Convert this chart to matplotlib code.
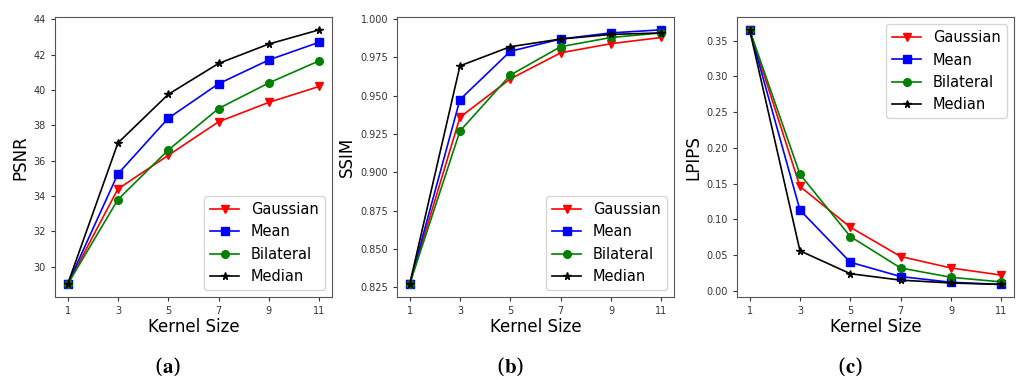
import matplotlib
matplotlib.use('Agg')
import matplotlib.pyplot as plt

plt.rcParams['font.family'] = ['DejaVu Sans']
plt.rcParams['mathtext.fontset'] = 'stix'

kernel_sizes = [1, 3, 5, 7, 9, 11]
methods = ['Gaussian', 'Mean', 'Bilateral', 'Median']

psnr_gaussian = [29.0, 34.4, 36.3, 38.2, 39.3, 40.2]
psnr_mean = [29.0, 35.25, 38.4, 40.35, 41.7, 42.7]
psnr_bilateral = [29.0, 33.8, 36.6, 38.95, 40.4, 41.65]
psnr_median = [29.0, 37.0, 39.75, 41.5, 42.6, 43.4]

ssim_gaussian = [0.827, 0.936, 0.961, 0.978, 0.984, 0.988]
ssim_mean = [0.827, 0.9475, 0.979, 0.987, 0.991, 0.993]
ssim_bilateral = [0.827, 0.927, 0.9635, 0.982, 0.988, 0.991]
ssim_median = [0.827, 0.9695, 0.982, 0.987, 0.990, 0.991]

lpips_gaussian = [0.365, 0.146, 0.089, 0.048, 0.032, 0.022]
lpips_mean = [0.365, 0.113, 0.040, 0.020, 0.012, 0.009]
lpips_bilateral = [0.365, 0.163, 0.076, 0.032, 0.019, 0.0125]
lpips_median = [0.365, 0.056, 0.024, 0.015, 0.011, 0.009]

styles = {
    'Gaussian': dict(color='red', marker='v', markersize=5.5),
    'Mean': dict(color='blue', marker='s', markersize=5.5),
    'Bilateral': dict(color='green', marker='o', markersize=5.5),
    'Median': dict(color='black', marker='*', markersize=5.5),
}

panels = [
    ('PSNR', [psnr_gaussian, psnr_mean, psnr_bilateral, psnr_median], 'lower right', '(a)', 0.054),
    ('SSIM', [ssim_gaussian, ssim_mean, ssim_bilateral, ssim_median], 'lower right', '(b)', 0.390),
    ('LPIPS', [lpips_gaussian, lpips_mean, lpips_bilateral, lpips_median], 'upper right', '(c)', 0.724),
]

fig = plt.figure(figsize=(10.18, 3.8), dpi=100)

for ylabel, series, loc, tag, left in panels:
    ax = fig.add_axes([left, 0.218, 0.272, 0.737])
    for name, vals in zip(methods, series):
        ax.plot(kernel_sizes, vals, lw=1.2, label=name, **styles[name])
    ax.set_xticks(kernel_sizes)
    ax.tick_params(labelsize=7, colors='#333333', length=3)
    for sp in ax.spines.values():
        sp.set_color('#555555')
    ax.set_xlabel('Kernel Size', fontsize=12, labelpad=1)
    ax.set_ylabel(ylabel, fontsize=12, labelpad=3)
    if ylabel == 'SSIM':
        ax.set_yticks([0.825, 0.85, 0.875, 0.9, 0.925, 0.95, 0.975, 1.0])
        ax.set_yticklabels([f'{v:.3f}' for v in ax.get_yticks()])
    ax.legend(loc=loc, fontsize=10.5)
    # sub-figure tag below the axis label
    cx = left + 0.272 / 2 - 0.025
    fig.text(cx, 0.005, tag[0] + r'$\mathbf{' + tag[1] + '}$' + tag[2],
             ha='center', va='bottom', fontsize=15, family='serif')

plt.savefig('out.png', dpi=100)
